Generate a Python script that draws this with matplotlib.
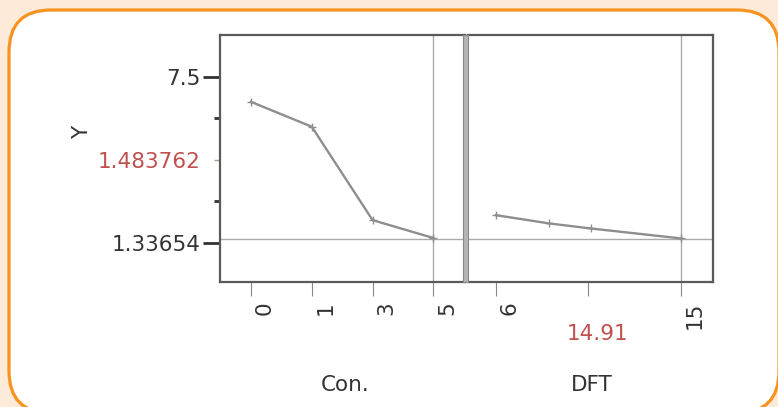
import matplotlib
matplotlib.use("Agg")
import matplotlib.pyplot as plt
from matplotlib.patches import FancyBboxPatch, Rectangle
from matplotlib.transforms import IdentityTransform, ScaledTranslation, blended_transform_factory

plt.rcParams['font.family'] = ['DejaVu Sans']

# ---- data (y in profiler axis units; tick units 1..5) ----
con_levels = ['0', '1', '3', '5']
con_pos = [0, 1, 2, 3]
con_y = [4.40, 3.80, 1.55, 1.12]

dft_x = [6, 8.6, 10.6, 15]
dft_y = [1.67, 1.47, 1.35, 1.11]
dft_tick_pos = [6, 10.5, 15]
dft_tick_labels = ['6', '', '15']
dft_current_label = '14.91'

y_tick_pos = [1, 3, 5]
y_tick_labels = ['1.33654', '1.483762', '7.5']
y_minor_pos = [2, 4]
pred_level = 1.10
con_current = 3
dft_current = 15

W, H = 778, 407
fig = plt.figure(figsize=(W / 100, H / 100), dpi=100)
fig.patch.set_facecolor('#FDEAD8')

card = FancyBboxPatch((9, -6), 770, 403,
                      boxstyle="round,pad=0,rounding_size=42",
                      transform=IdentityTransform(), facecolor='white',
                      edgecolor='#F7931E', linewidth=2.3, zorder=-10)
fig.patches.append(card)

def fx(px):
    return px / W

def fy(py):
    return 1 - py / H

top, bottom = 35, 282
axL = fig.add_axes([fx(220), fy(bottom), fx(465) - fx(220), fy(top) - fy(bottom)])
axR = fig.add_axes([fx(468), fy(bottom), fx(713) - fx(468), fy(top) - fy(bottom)])

red = '#C0504D'
dark = '#333333'
line_c = '#8e8e8e'
ref_c = '#ababab'
fs = 15.5

for ax in (axL, axR):
    ax.set_facecolor('white')
    ax.set_ylim(0.06, 6.01)
    for s in ax.spines.values():
        s.set_color('#5a5a5a')
        s.set_linewidth(1.6)
    ax.axhline(pred_level, color=ref_c, lw=1.0, zorder=1)
    ax.tick_params(axis='x', length=10, width=0.8, color='#888888',
                   labelsize=fs, labelcolor=dark, labelrotation=90, pad=4)

# left panel
axL.set_xlim(-0.51, 3.52)
axL.plot(con_pos, con_y, color=line_c, lw=1.7, marker='+', ms=6, mew=1.0, zorder=3)
axL.axvline(con_current, color=ref_c, lw=1.0, zorder=1)
axL.set_xticks(con_pos)
axL.set_xticklabels(con_levels)
axL.set_yticks(y_tick_pos)
axL.set_yticklabels(y_tick_labels)
axL.set_yticks(y_minor_pos, minor=True)
axL.tick_params(axis='y', which='major', length=12, width=2, color=dark,
                labelsize=fs, labelcolor=dark, pad=2)
axL.tick_params(axis='y', which='minor', length=4, width=2, color=dark)
ylabs = axL.get_yticklabels()
ylabs[1].set_color(red)
t3 = axL.yaxis.get_major_ticks()[1]
t3.tick1line.set_markeredgecolor('#9aa88a')
t3.tick1line.set_markersize(4)
t3.tick1line.set_markeredgewidth(1)

# right panel
axR.set_xlim(4.64, 16.56)
axR.plot(dft_x, dft_y, color=line_c, lw=1.7, marker='+', ms=6, mew=1.0, zorder=3)
axR.axvline(dft_current, color=ref_c, lw=1.0, zorder=1)
axR.set_xticks(dft_tick_pos)
axR.set_xticklabels(dft_tick_labels)
axR.set_yticks([])
axR.spines['left'].set_visible(False)

# shift rotated tick labels to the right of their ticks
off = ScaledTranslation(14 / 100, 0, fig.dpi_scale_trans)
for ax in (axL, axR):
    for lab in ax.get_xticklabels():
        lab.set_transform(lab.get_transform() + off)

# separator band between panels
fig.patches.append(Rectangle((fx(463), fy(bottom)), fx(468) - fx(463), fy(top) - fy(bottom),
                             transform=fig.transFigure, facecolor='#b5b5b5',
                             edgecolor='#888888', lw=0.8, zorder=5))

# current DFT value label
trans = blended_transform_factory(axR.transData, fig.transFigure)
axR.text(10.5, fy(334), dft_current_label,
         transform=trans + ScaledTranslation(9 / 100, 0, fig.dpi_scale_trans),
         color=red, fontsize=fs, ha='center', va='center')

fig.text(fx(82), fy(132), 'Y', rotation=90, fontsize=fs, color=dark, ha='center', va='center')
fig.text(fx(345), fy(385), 'Con.', fontsize=fs, color=dark, ha='center', va='center')
fig.text(fx(592), fy(385), 'DFT', fontsize=fs, color=dark, ha='center', va='center')

fig.savefig('out.png', dpi=100, facecolor=fig.get_facecolor())
